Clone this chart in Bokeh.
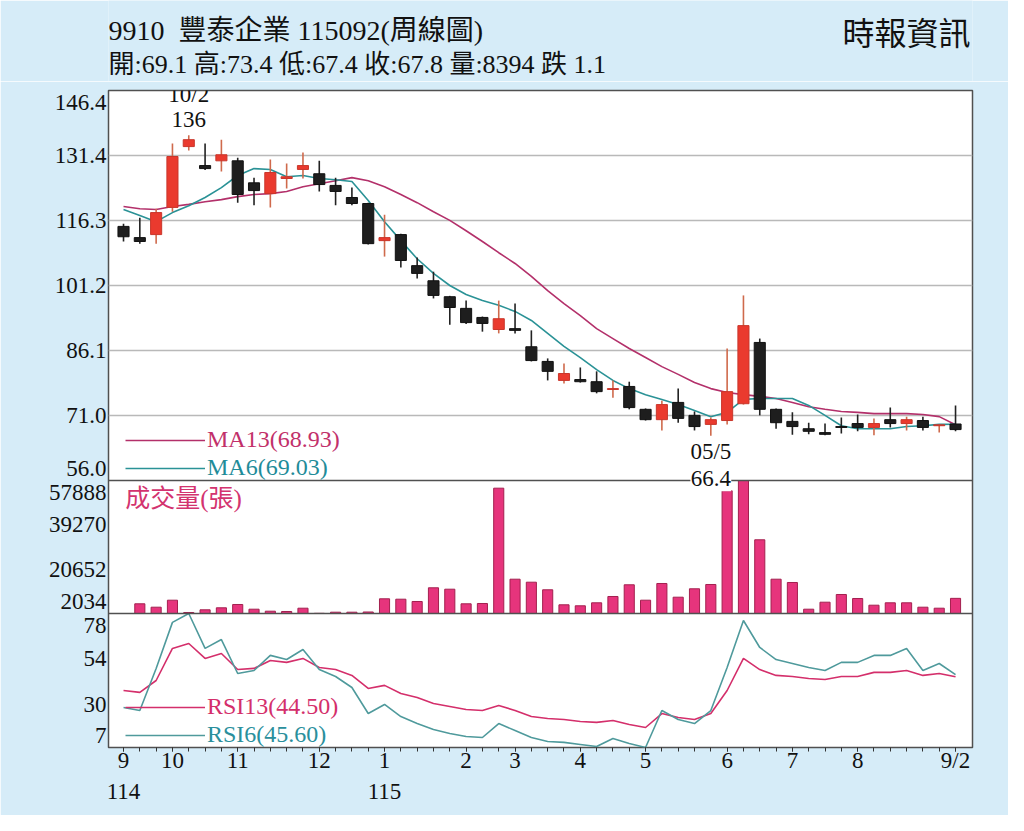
from bokeh.plotting import figure
from bokeh.models import (ColumnDataSource, Range1d, LinearAxis, FixedTicker, Grid,
                          Span, Label, Legend, LegendItem)
from bokeh.layouts import column
from bokeh.core.properties import value
from bokeh.embed import file_html
from bokeh.resources import INLINE

SERIF = "Liberation Serif, Noto Sans CJK TC"
BG = "#d6ecf8"
INK = "#111111"

# ---- data ----
code, name, date_code, change = "9910", "豐泰企業", "115092", 1.1

opens = [114.9, 112.3, 113.0, 119.3, 133.4, 129.0, 130.1, 130.1, 125.0, 122.5,
         126.0, 128.1, 127.1, 124.4, 121.6, 120.2, 111.6, 113.0, 105.8, 102.3,
         98.6, 95.9, 93.8, 91.0, 91.2, 87.0, 83.6, 79.2, 79.4, 78.9,
         77.1, 77.8, 72.5, 70.1, 74.1, 71.1, 69.0, 69.9, 73.8, 88.0,
         72.5, 69.7, 68.0, 67.1, 68.5, 69.2, 68.3, 70.1, 69.2, 69.9,
         68.7, 69.1]
highs = [115.5, 116.9, 119.0, 134.1, 136.0, 134.1, 135.0, 130.8, 126.2, 130.4,
         129.5, 132.0, 130.1, 126.2, 123.9, 120.4, 117.6, 113.2, 107.7, 104.4,
         98.8, 97.7, 94.0, 97.7, 97.0, 90.8, 84.3, 83.1, 82.2, 81.3,
         79.2, 78.9, 72.7, 74.5, 77.3, 72.0, 70.6, 86.6, 98.9, 88.9,
         72.7, 71.8, 69.4, 69.2, 70.6, 71.3, 70.4, 72.9, 70.8, 70.8,
         69.0, 73.4]
lows = [111.4, 110.9, 110.9, 118.3, 132.5, 128.0, 127.6, 120.4, 119.8, 119.3,
        123.7, 126.0, 123.0, 119.8, 119.8, 110.7, 107.9, 105.4, 102.8, 98.2,
        92.1, 92.3, 90.5, 90.1, 90.1, 83.6, 79.2, 78.5, 78.7, 76.2,
        75.2, 72.5, 69.9, 67.6, 69.4, 67.6, 66.4, 69.0, 73.6, 71.1,
        68.0, 66.6, 66.7, 66.5, 66.9, 67.4, 66.5, 68.3, 67.6, 67.6,
        67.1, 67.4]
closes = [112.5, 111.4, 118.1, 131.1, 135.0, 128.3, 131.5, 122.3, 123.2, 127.4,
          126.4, 129.0, 124.6, 123.0, 120.2, 110.9, 112.3, 107.0, 104.0, 98.9,
          96.1, 92.6, 92.4, 93.5, 90.8, 83.8, 81.3, 80.8, 78.9, 76.6,
          77.3, 72.9, 70.1, 73.6, 70.4, 68.5, 70.1, 76.6, 91.9, 72.5,
          69.4, 68.5, 67.4, 66.7, 68.3, 68.3, 69.2, 69.2, 70.1, 68.3,
          68.9, 67.8]
volumes = [2034, 6108, 4680, 7620, 2454, 3588, 4428, 5814, 3840, 3000,
           2874, 4260, 2100, 2580, 2580, 2664, 8208, 8040, 7074, 12830,
           12240, 6108, 6234, 54660, 16440, 15180, 11990, 5688, 5268, 6528,
           9174, 14090, 7620, 14634, 8880, 12410, 14214, 53570, 57888, 32990,
           16440, 15054, 3840, 6780, 10014, 8334, 5520, 6528, 6528, 4680,
           4260, 8394]
ma13 = [119.5, 119.0, 118.8, 119.5, 120.0, 120.6, 121.1, 121.8, 122.3, 122.5,
        123.0, 124.1, 124.8, 125.5, 126.2, 125.5, 124.1, 122.3, 120.4, 118.3,
        116.3, 113.9, 111.4, 108.8, 106.3, 103.3, 100.0, 97.0, 94.2, 91.2,
        88.9, 86.6, 84.5, 82.4, 80.6, 78.7, 77.3, 76.4, 75.9, 75.5,
        75.0, 74.1, 73.1, 72.5, 72.0, 71.8, 71.5, 71.5, 71.5, 71.3,
        70.8, 68.93]
ma6 = [118.8, 117.4, 116.0, 118.1, 119.7, 121.6, 123.9, 126.7, 128.3, 128.1,
       126.4, 126.7, 126.0, 125.7, 125.3, 120.9, 116.0, 111.6, 107.4, 104.0,
       101.2, 99.1, 97.7, 96.6, 95.2, 93.1, 90.1, 87.1, 84.5, 81.7,
       79.2, 77.3, 75.9, 74.8, 73.6, 72.2, 70.8, 71.8, 74.8, 75.0,
       75.0, 75.0, 73.4, 71.1, 68.7, 68.0, 68.0, 68.0, 68.5, 68.7,
       69.0, 69.03]
rsi13 = [37.2, 36.2, 42.5, 59.5, 62.1, 54.2, 56.8, 48.3, 48.9, 53.1,
         52.1, 54.2, 49.4, 48.3, 45.2, 38.3, 39.9, 35.6, 33.5, 30.3,
         28.7, 27.1, 26.6, 29.3, 26.6, 23.4, 22.4, 21.8, 20.8, 20.3,
         21.3, 19.2, 17.6, 25.0, 22.9, 21.8, 25.0, 37.2, 54.2, 48.3,
         45.2, 44.6, 43.6, 43.0, 44.6, 44.6, 46.8, 46.8, 47.8, 45.2,
         46.2, 44.50]
rsi6 = [28.2, 26.6, 48.9, 73.3, 78.0, 59.5, 64.2, 46.2, 47.8, 55.8,
        53.6, 58.9, 48.3, 44.6, 38.8, 25.0, 29.8, 23.4, 19.7, 16.5,
        14.4, 12.8, 12.3, 19.7, 16.0, 12.3, 10.2, 9.7, 8.6, 7.5,
        11.8, 9.1, 7.0, 26.6, 21.8, 19.7, 26.6, 49.4, 74.3, 60.0,
        53.6, 51.5, 49.4, 47.8, 52.1, 52.1, 55.8, 55.8, 59.5, 47.8,
        51.5, 45.60]

price_ticks = [146.4, 131.4, 116.3, 101.2, 86.1, 71.0, 56.0]
vol_ticks = [57888, 39270, 20652, 2034]
rsi_ticks = [78, 54, 30, 7]
month_labels = {0: "9", 3: "10", 7: "11", 12: "12", 16: "1", 21: "2", 24: "3",
                28: "4", 32: "5", 37: "6", 41: "7", 45: "8", 51: "9/2"}
year_labels = {0: "114", 16: "115"}
peak_date, trough_date = "10/2", "05/5"

for arr in (highs, lows, closes, volumes, ma13, ma6, rsi13, rsi6):
    assert len(arr) == len(opens)

idx = list(range(len(opens)))

# ---- layout: one frame split in three stacked bands ----
FRAME_H = 657
BANDS = {"price": (267, 657), "vol": (134, 267), "rsi": (0, 134)}


def band_range(lo, hi, b0, b1):
    k = (hi - lo) / (b1 - b0)
    start = lo - b0 * k
    return Range1d(start, start + FRAME_H * k)


def label_rows(ticks, b0, b1, fmt):
    lo, hi = min(ticks), max(ticks)
    out = {}
    for t in ticks:
        r = b0 + (t - lo) / (hi - lo) * (b1 - b0)
        if t == hi:
            r -= 12
        if t == lo:
            r += 12
        out[round(r)] = fmt(t)
    return out


p = figure(width=1008, height=734, x_range=Range1d(-0.92, 52.04), y_range=Range1d(0, FRAME_H),
           output_backend="svg", toolbar_location=None,
           min_border_left=108, min_border_right=36, min_border_top=9, min_border_bottom=68,
           background_fill_color="white", border_fill_color=BG,
           outline_line_color="#505050", outline_line_width=1.5)
p.extra_y_ranges = {
    "price": band_range(min(price_ticks), max(price_ticks), *BANDS["price"]),
    "vol": band_range(min(vol_ticks), max(vol_ticks), *BANDS["vol"]),
    "rsi": band_range(min(rsi_ticks), max(rsi_ticks), *BANDS["rsi"]),
}
p.xgrid.visible = False
p.ygrid.visible = False

# left axis labels for all three bands
ylab = {}
ylab.update(label_rows(price_ticks, *BANDS["price"], lambda t: f"{t:.1f}"))
ylab.update(label_rows(vol_ticks, *BANDS["vol"], lambda t: str(t)))
ylab.update(label_rows(rsi_ticks, *BANDS["rsi"], lambda t: str(t)))
ya = p.yaxis[0]
ya.ticker = FixedTicker(ticks=sorted(ylab))
ya.major_label_overrides = ylab
ya.axis_line_color = None
ya.major_tick_line_color = None
ya.minor_tick_line_color = None
ya.major_tick_out = 0
ya.major_label_standoff = 2
ya.major_label_text_font = SERIF
ya.major_label_text_font_size = "23px"
ya.major_label_text_color = INK

# month axis with a tick at every week
xa = p.xaxis[0]
xa.ticker = FixedTicker(ticks=list(month_labels), minor_ticks=idx)
xa.major_label_overrides = month_labels
xa.axis_line_color = None
xa.major_tick_line_color = "#333333"
xa.minor_tick_line_color = "#333333"
xa.major_tick_in = 0
xa.minor_tick_in = 0
xa.major_tick_out = 4
xa.minor_tick_out = 4
xa.major_label_standoff = -4
xa.major_label_text_font = SERIF
xa.major_label_text_font_size = "23px"
xa.major_label_text_color = INK

yr = LinearAxis(ticker=FixedTicker(ticks=list(year_labels)), major_label_overrides=year_labels,
                axis_line_color=None, major_tick_line_color=None, minor_tick_line_color=None,
                major_tick_out=0, major_label_standoff=8,
                major_label_text_font=SERIF, major_label_text_font_size="23px",
                major_label_text_color=INK)
p.add_layout(yr, "below")

# price grid + band separators
p.add_layout(Grid(dimension=1, ticker=FixedTicker(ticks=price_ticks[1:-1]), y_range_name="price",
                  grid_line_color="#b9b9b9", grid_line_width=1.5))
p.add_layout(Span(location=min(price_ticks), dimension="width", y_range_name="price",
                  line_color="#505050", line_width=1.5))
p.add_layout(Span(location=max(rsi_ticks), dimension="width", y_range_name="rsi",
                  line_color="#505050", line_width=1.5))

# moving averages (under the candles)
r_ma13 = p.line(idx, ma13, y_range_name="price", line_color="#b3306a", line_width=1.6)
r_ma6 = p.line(idx, ma6, y_range_name="price", line_color="#2a9296", line_width=1.6)

# candles
up = [c >= o for o, c in zip(opens, closes)]
src = ColumnDataSource(dict(
    x=idx, high=highs, low=lows,
    top=[max(o, c) for o, c in zip(opens, closes)],
    bot=[min(o, c) for o, c in zip(opens, closes)],
    fill=["#ea3a2e" if u else "#1e1e1e" for u in up],
    edge=["#c9362b" if u else "#111111" for u in up],
    wick=["#cf6a4c" if u else "#222222" for u in up],
))
p.segment(x0="x", y0="high", x1="x", y1="low", source=src, y_range_name="price",
          line_color="wick", line_width=1.6)
p.vbar(x="x", top="top", bottom="bot", width=0.68, source=src, y_range_name="price",
       fill_color="fill", line_color="edge", line_width=1)

# volume
p.vbar(x=idx, top=volumes, bottom=min(vol_ticks), width=0.62, y_range_name="vol",
       fill_color="#e6347c", line_color="#a3204f", line_width=1)

# RSI
r_rsi13 = p.line(idx, rsi13, y_range_name="rsi", line_color="#d42f6b", line_width=1.6)
r_rsi6 = p.line(idx, rsi6, y_range_name="rsi", line_color="#4f9a9c", line_width=1.6)

# extreme price notes
hi_i = highs.index(max(highs))
lo_i = lows.index(min(lows))
p.add_layout(Label(x=hi_i, y=highs[hi_i], y_range_name="price", text=f"{peak_date}\n{highs[hi_i]:g}",
                   text_align="center", text_baseline="bottom", y_offset=3, text_line_height=1.0,
                   text_font=SERIF, text_font_size="23px", text_color=INK))
p.add_layout(Label(x=lo_i, y=lows[lo_i], y_range_name="price", text=f"{trough_date}\n{lows[lo_i]:g}",
                   text_align="center", text_baseline="top", y_offset=-3, text_line_height=1.1,
                   text_font=SERIF, text_font_size="23px", text_color=INK,
                   background_fill_color="white"))

p.add_layout(Label(x=0.1, y=50300, y_range_name="vol", text="成交量(張)",
                   text_align="left", text_baseline="middle",
                   text_font=SERIF, text_font_size="25px", text_color="#d3336f"))


def legend_entry(text, renderer, text_color, vy):
    lg = Legend(items=[LegendItem(label=text, renderers=[renderer])], location=(17, vy),
                padding=0, margin=0, spacing=0, glyph_width=80, glyph_height=26,
                label_height=26, label_standoff=2, background_fill_alpha=0,
                border_line_alpha=0, label_text_font=SERIF, label_text_font_size="24px",
                label_text_color=text_color)
    p.add_layout(lg)


legend_entry(f"MA13({ma13[-1]:.2f})", r_ma13, "#c2306a", 294)
legend_entry(f"MA6({ma6[-1]:.2f})", r_ma6, "#1f8c99", 266)
legend_entry(f"RSI13({rsi13[-1]:.2f})", r_rsi13, "#d42f6b", 27)
legend_entry(f"RSI6({rsi6[-1]:.2f})", r_rsi6, "#2a8f9c", -1)

# ---- header (its frame lines up with the chart frame: 108..972 px) ----
head = figure(width=1008, height=81, x_range=Range1d(108, 972), y_range=Range1d(81, 0),
              output_backend="svg", toolbar_location=None, min_border=0,
              background_fill_color=BG, border_fill_color=BG, outline_line_color=None)
head.axis.visible = False
head.grid.visible = False
line1 = f"{code}\u00a0\u00a0{name} {date_code}(周線圖)"
line2 = (f"開:{opens[-1]} 高:{highs[-1]} 低:{lows[-1]} 收:{closes[-1]} "
         f"量:{volumes[-1]} 跌 {change}")
head.text(x=[108], y=[30], text=[line1], text_font=value(SERIF),
          text_font_size="28px", text_baseline="middle", text_color=INK)
head.text(x=[108], y=[64], text=[line2], text_font=value(SERIF),
          text_font_size="26px", text_baseline="middle", text_color=INK)
head.text(x=[970], y=[30], text=["時報資訊"], text_font=value("Noto Sans CJK TC"),
          text_font_size="32px", text_align="right", text_baseline="middle", text_color=INK)

layout = column(head, p, spacing=0)
open("out.html", "w").write(file_html(layout, INLINE))
